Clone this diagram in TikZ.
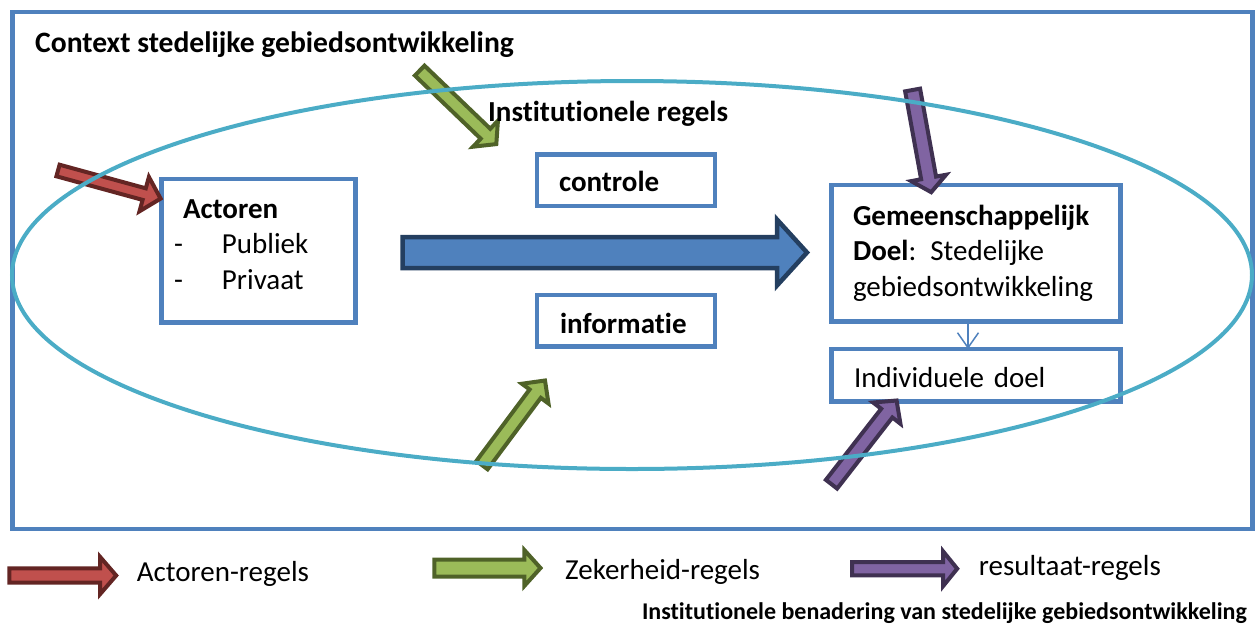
\documentclass[tikz,border=0pt]{standalone}
\usepackage{fontspec}
\setmainfont{Carlito}[Ligatures=NoCommon]
\usepackage{tikz}
\usetikzlibrary{calc,arrows.meta}
\definecolor{vakBlauw}{RGB}{79,129,189}
\definecolor{ovaalBlauw}{RGB}{75,172,198}
\definecolor{randBlauw}{RGB}{36,63,96}
\definecolor{pijlRood}{RGB}{192,80,77}
\definecolor{randRood}{RGB}{99,37,35}
\definecolor{pijlGroen}{RGB}{155,187,89}
\definecolor{randGroen}{RGB}{79,98,40}
\definecolor{pijlPaars}{RGB}{128,100,162}
\definecolor{randPaars}{RGB}{63,49,81}
\newcommand{\tekst}{\fontsize{29}{35.5}\selectfont}
\tikzset{
    kader/.style={draw=vakBlauw, line width=4.5pt},
    ovaal/.style={draw=ovaalBlauw, line width=4pt},
    vak/.style={rectangle, draw=vakBlauw, line width=4.5pt, fill=white, anchor=base west, align=left, inner ysep=0pt, outer sep=0pt, font=\tekst},
    tekstnode/.style={anchor=base west, inner sep=0pt, font=\tekst},
    grotepijl/.style={fill=vakBlauw, draw=randBlauw, line width=4.5pt},
    rodepijl/.style={fill=pijlRood, draw=randRood, line width=4pt},
    groenepijl/.style={fill=pijlGroen, draw=randGroen, line width=4pt},
    paarsepijl/.style={fill=pijlPaars, draw=randPaars, line width=4pt},
    dunpijl/.style={draw=vakBlauw, line width=1.5pt, -{Straight Barb[length=15pt, width=21pt]}}
}
% blokpijl: #1 stijl, #2 staart, #3 punt, #4 halve schacht, #5 halve kop, #6 koplengte
\newcommand{\blokpijl}[6]{%
    \coordinate (kopbasis) at ($(#3)!#6!(#2)$);
    \draw[#1] ($(#2)!#4!90:(#3)$) -- ($(kopbasis)!#4!90:(#3)$) -- ($(kopbasis)!#5!90:(#3)$) -- (#3)
        -- ($(kopbasis)!#5!-90:(#3)$) -- ($(kopbasis)!#4!-90:(#3)$) -- ($(#2)!#4!-90:(#3)$) -- cycle;
}

\begin{document}
\begin{tikzpicture}[x=1pt, y=-1pt]
    \useasboundingbox (0,0) rectangle (1256,625);

    % --- KADER ---
    \draw[kader] (12.5,12) rectangle (1252.5,529);
    \node[tekstnode, font=\fontsize{29.6}{35.5}\selectfont\bfseries] (context) at (35,52) {Context stedelijke gebiedsontwikkeling};

    % --- VAKKEN ---
    \node[vak, inner xsep=12.5pt, text width=169pt, text height=39pt, text depth=104.5pt] (actoren) at (161.5,218)
        {\hspace*{9pt}\textbf{Actoren}\\ \makebox[48pt][l]{-}Publiek\\ \makebox[48pt][l]{-}Privaat};
    \node[vak, inner xsep=22pt, text width=134pt, text height=37.2pt, text depth=14.3pt] (controle) at (537,191.7)
        {\textbf{controle}};
    \node[vak, inner xsep=23pt, text width=132pt, text height=38.3pt, text depth=13.2pt] (informatie) at (537,333.3)
        {\textbf{informatie}};
    \node[vak, inner xsep=21.5pt, text width=246pt, text height=40pt, text depth=96.5pt] (gemdoel) at (831.5,225)
        {\textbf{Gemeenschappelijk}\\ \textbf{Doel}:\hspace{14pt}Stedelijke\\ gebiedsontwikkeling};
    \node[vak, inner xsep=22.5pt, text width=244pt, text height=38.3pt, text depth=14.2pt] (inddoel) at (831.5,387.3)
        {Individuele doel};

    % --- PIJLEN ---
    \coordinate (groot-staart) at (402.5,252.5);
    \coordinate (groot-punt) at (807,252.5);
    \blokpijl{grotepijl}{groot-staart}{groot-punt}{15.5pt}{33pt}{30pt}

    \coordinate (rood-staart) at (58,170.5);
    \coordinate (rood-punt) at (160.6,198.6);
    \blokpijl{rodepijl}{rood-staart}{rood-punt}{6pt}{17.8pt}{17pt}

    \coordinate (groen1-staart) at (419.7,70.6);
    \coordinate (groen1-punt) at (496.3,144.1);
    \blokpijl{groenepijl}{groen1-staart}{groen1-punt}{6.9pt}{18pt}{15pt}

    \coordinate (groen2-staart) at (482,465.1);
    \coordinate (groen2-punt) at (545,380.5);
    \blokpijl{groenepijl}{groen2-staart}{groen2-punt}{7pt}{16.6pt}{16.4pt}

    \coordinate (paars1-staart) at (912.6,90);
    \coordinate (paars1-punt) at (931.2,192.2);
    \blokpijl{paarsepijl}{paars1-staart}{paars1-punt}{7.6pt}{17.7pt}{14.5pt}

    \coordinate (paars2-staart) at (831.5,484.2);
    \coordinate (paars2-punt) at (896.6,400.5);
    \blokpijl{paarsepijl}{paars2-staart}{paars2-punt}{7.1pt}{17.3pt}{16pt}

    \draw[dunpijl] ([xshift=-8pt]gemdoel.south) -- ([xshift=-8pt]inddoel.north);

    % --- ELLIPS ---
    \draw[ovaal] (632,275) ellipse [x radius=620pt, y radius=194pt];
    \node[tekstnode, font=\tekst\bfseries] (instregels) at (488,121.7) {Institutionele regels};

    % --- LEGENDA ---
    \coordinate (lrood-staart) at (9.3,575.5);
    \coordinate (lrood-punt) at (116.2,575.5);
    \blokpijl{rodepijl}{lrood-staart}{lrood-punt}{7.2pt}{18.5pt}{16pt}
    \node[tekstnode] (lrood) at (136.7,581.7) {Actoren-regels};

    \coordinate (lgroen-staart) at (434.3,568);
    \coordinate (lgroen-punt) at (540.5,568);
    \blokpijl{groenepijl}{lgroen-staart}{lgroen-punt}{8.5pt}{18pt}{16.2pt}
    \node[tekstnode] (lgroen) at (565,579.3) {Zekerheid-regels};

    \coordinate (lpaars-staart) at (852,568.7);
    \coordinate (lpaars-punt) at (957.2,568.7);
    \blokpijl{paarsepijl}{lpaars-staart}{lpaars-punt}{6.6pt}{17.5pt}{14.2pt}
    \node[tekstnode] (lpaars) at (978.7,575.5) {resultaat-regels};

    \node[tekstnode, font=\fontsize{24}{29}\selectfont\bfseries] (bijschrift) at (641.8,619) {Institutionele benadering van stedelijke gebiedsontwikkeling};
\end{tikzpicture}
\end{document}
